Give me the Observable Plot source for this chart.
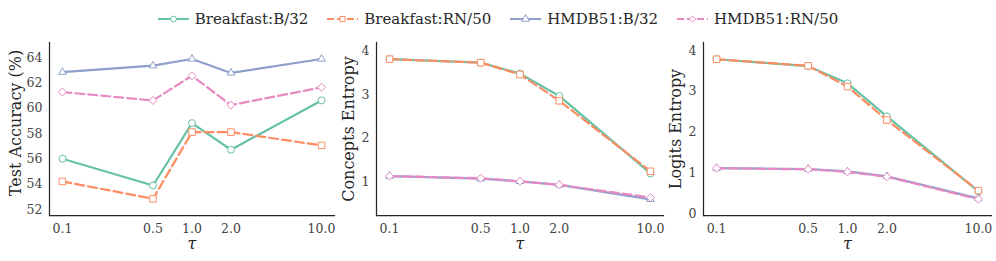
<!DOCTYPE html>
<html><head><meta charset="utf-8">
<script src="https://cdn.jsdelivr.net/npm/d3@7"></script>
<script src="https://cdn.jsdelivr.net/npm/@observablehq/plot@0.6"></script>
<style>
body{margin:0;background:#fff;}
#wrap{position:relative;width:996px;height:261px;font-family:"DejaVu Serif",serif;overflow:hidden;}
.panel{position:absolute;top:0;}
#legend{position:absolute;top:10px;left:0;width:996px;display:flex;justify-content:center;align-items:center;font-size:15px;color:#262626;}
.item{display:flex;align-items:center;margin:0 9.5px;}
.item svg{margin-right:6px;}
</style></head><body><div id="wrap"><div id="legend"></div></div>
<script>
const taus = [0.1, 0.5, 1.0, 2.0, 10.0];
const tauLabels = ["0.1", "0.5", "1.0", "2.0", "10.0"];
const series = ["Breakfast:B/32", "Breakfast:RN/50", "HMDB51:B/32", "HMDB51:RN/50"];
const colors = ["#66c2a5", "#fc8d62", "#8da0cb", "#e78ac3"];
const symbols = ["circle", "square", "triangle", "diamond2"];
const symbolR = [3.5, 3.7, 2.8, 3.6];
const dashes = [null, "9,4", null, "9,4"];

// Test accuracy (%)
const accBreakfastB32 = [56.03, 53.92, 58.84, 56.74, 60.63];
const accBreakfastRN50 = [54.24, 52.87, 58.13, 58.13, 57.08];
const accHMDBB32 = [62.86, 63.37, 63.90, 62.80, 63.90];
const accHMDBRN50 = [61.29, 60.63, 62.58, 60.26, 61.66];

// Concepts entropy
const ceBreakfastB32 = [3.81, 3.73, 3.48, 2.97, 1.20];
const ceBreakfastRN50 = [3.81, 3.73, 3.46, 2.86, 1.25];
const ceHMDBB32 = [1.14, 1.08, 1.02, 0.94, 0.61];
const ceHMDBRN50 = [1.14, 1.09, 1.02, 0.94, 0.65];

// Logits entropy
const leBreakfastB32 = [3.79, 3.62, 3.20, 2.39, 0.55];
const leBreakfastRN50 = [3.79, 3.63, 3.12, 2.30, 0.57];
const leHMDBB32 = [1.12, 1.10, 1.04, 0.92, 0.38];
const leHMDBRN50 = [1.12, 1.09, 1.03, 0.91, 0.36];

const accTicks = [52, 54, 56, 58, 60, 62, 64];
const ceTicks = [1, 2, 3, 4];
const leTicks = [0, 1, 2, 3, 4];

const wrap = document.getElementById("wrap");

// legend
const legend = document.getElementById("legend");
const symMap = {circle: d3.symbolCircle, square: d3.symbolSquare, triangle: d3.symbolTriangle, diamond2: d3.symbolDiamond2};
series.forEach((s, i) => {
  const item = document.createElement("div");
  item.className = "item";
  const svg = d3.create("svg").attr("width", 31).attr("height", 12);
  svg.append("line").attr("x1", 0).attr("x2", 31).attr("y1", 6).attr("y2", 6)
    .attr("stroke", colors[i]).attr("stroke-width", 2)
    .attr("stroke-dasharray", dashes[i] ? "7,3" : null);
  svg.append("path").attr("d", d3.symbol(symMap[symbols[i]], Math.PI * 2.9 * 2.9)())
    .attr("transform", "translate(15.5,6)").attr("fill", "white").attr("stroke", colors[i]).attr("stroke-width", 1);
  item.appendChild(svg.node());
  const t = document.createElement("span");
  t.textContent = s;
  item.appendChild(t);
  legend.appendChild(item);
});

function panel(values, o) {
  const marks = [];
  series.forEach((s, i) => {
    const d = values[i].map((v, j) => ({series: s, tau: taus[j], v}));
    marks.push(Plot.line(d, {x: "tau", y: "v", stroke: colors[i], strokeWidth: 2.2, strokeDasharray: dashes[i] || undefined}));
    marks.push(Plot.dot(d, {x: "tau", y: "v", symbol: symbols[i], r: symbolR[i], fill: "white", stroke: colors[i], strokeWidth: 1}));
  });
  // x tick labels
  marks.push(Plot.text(taus, {x: (d) => d, text: (d, i) => tauLabels[i], frameAnchor: "bottom", lineAnchor: "middle", dy: 13, fontSize: 12.5, fill: "#444"}));
  marks.push(Plot.axisY(o.yticks, {tickFormat: (d) => String(d), tickSize: 0, tickPadding: 7, label: null, fontSize: 12.5, fill: "#444"}));
  marks.push(Plot.frame({anchor: "left", stroke: "#262626", strokeWidth: 1.25}));
  marks.push(Plot.frame({anchor: "bottom", stroke: "#262626", strokeWidth: 1.25}));
  marks.push(Plot.text(["τ"], {frameAnchor: "bottom", lineAnchor: "middle", dy: 28, fontSize: 16, fontStyle: "italic", fill: "#262626"}));
  marks.push(Plot.text([o.ylabel], {frameAnchor: "left", textAnchor: "middle", lineAnchor: "middle", dx: o.ldx, dy: o.ldy || 0, rotate: -90, fontSize: 16, fill: "#262626"}));
  const p = Plot.plot({
    width: o.width, height: 261,
    marginLeft: o.ml, marginRight: o.mr, marginTop: 42, marginBottom: 46,
    style: {fontFamily: "DejaVu Serif, serif", background: "transparent", overflow: "visible"},
    x: {type: "log", domain: [Math.pow(10, -1.1), Math.pow(10, 1.1)], axis: null},
    y: {domain: o.ydomain},
    marks
  });
  p.classList.add("panel");
  p.style.left = o.left + "px";
  wrap.appendChild(p);
}

panel([accBreakfastB32, accBreakfastRN50, accHMDBB32, accHMDBRN50],
  {left: 0, width: 340, ml: 49, mr: 6, ydomain: [51.55, 65.2], yticks: accTicks, ylabel: "Test Accuracy (%)", ldx: -34, ldy: -6});
panel([ceBreakfastB32, ceBreakfastRN50, ceHMDBB32, ceHMDBRN50],
  {left: 330, width: 340, ml: 46, mr: 7, ydomain: [0.24, 4.19], yticks: ceTicks, ylabel: "Concepts Entropy", ldx: -28});
panel([leBreakfastB32, leBreakfastRN50, leHMDBB32, leHMDBRN50],
  {left: 660, width: 336, ml: 43, mr: 5, ydomain: [-0.04, 4.2], yticks: leTicks, ylabel: "Logits Entropy", ldx: -28});
</script></body></html>
